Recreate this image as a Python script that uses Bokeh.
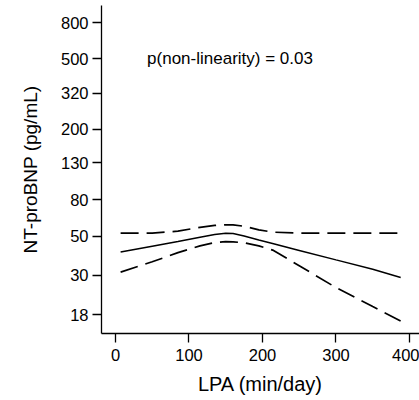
from bokeh.plotting import figure
from bokeh.models import Range1d, FixedTicker, Label
from bokeh.embed import file_html
from bokeh.resources import INLINE

# Data
lpa = [7, 50, 85, 115, 135, 150, 160, 175, 195, 215, 250, 300, 350, 388]
estimate = [40.6, 43.8, 46.6, 49.3, 51.0, 51.9, 51.7, 50.0, 47.5, 45.3, 41.5, 36.7, 32.5, 29.2]
upper_ci = [52, 52, 53.3, 56, 57.4, 57.9, 57.8, 56.8, 54.2, 52.6, 52, 52, 52, 52]
lower_ci = [31.3, 35.8, 40.3, 44, 46, 46.5, 46.4, 45.8, 44, 41.5, 34, 25.6, 20.0, 16.6]

x_ticks = [0, 100, 200, 300, 400]
y_ticks = [18, 30, 50, 80, 130, 200, 320, 500, 800]
annotation = "p(non-linearity) = 0.03"

FONT = "Liberation Sans"

p = figure(width=419, height=400, output_backend="svg", toolbar_location=None,
           y_axis_type="log",
           x_range=Range1d(-19, 413.6), y_range=Range1d(14.1, 1000),
           min_border_left=101, min_border_right=0, min_border_top=5, min_border_bottom=67)
p.outline_line_color = None
p.background_fill_color = "white"
p.border_fill_color = "white"
p.xgrid.grid_line_color = None
p.ygrid.grid_line_color = None

p.line(lpa, estimate, line_color="black", line_width=1.5)
p.line(lpa, upper_ci, line_color="black", line_width=1.7, line_dash="18 8")
p.line(lpa, lower_ci, line_color="black", line_width=1.7, line_dash="18 8")

p.add_layout(Label(x=43, y=500, text=annotation, text_font=FONT, text_font_size="17px",
                   text_baseline="middle", text_align="left", text_color="black"))

for ax in (p.xaxis[0], p.yaxis[0]):
    ax.axis_line_color = "black"
    ax.axis_line_width = 1.3
    ax.major_tick_line_color = "black"
    ax.major_tick_line_width = 1.3
    ax.major_tick_out = 9
    ax.major_tick_in = 0
    ax.minor_tick_line_color = None
    ax.major_label_text_font = FONT
    ax.major_label_text_font_size = "16.5px"
    ax.major_label_text_color = "black"
    ax.axis_label_text_font = FONT
    ax.axis_label_text_font_style = "normal"
    ax.axis_label_text_color = "black"

p.xaxis.ticker = FixedTicker(ticks=x_ticks)
p.xaxis.major_label_standoff = 6
p.xaxis.axis_label = "LPA (min/day)"
p.xaxis.axis_label_text_font_size = "20px"
p.xaxis.axis_label_standoff = 9

p.yaxis.ticker = FixedTicker(ticks=y_ticks)
p.yaxis.major_label_overrides = {t: str(t) for t in y_ticks}
p.yaxis.major_label_standoff = 4
p.yaxis.axis_label = "NT-proBNP (pg/mL)"
p.yaxis.axis_label_text_font_size = "19px"
p.yaxis.axis_label_standoff = 17

open("out.html", "w").write(file_html(p, INLINE))
